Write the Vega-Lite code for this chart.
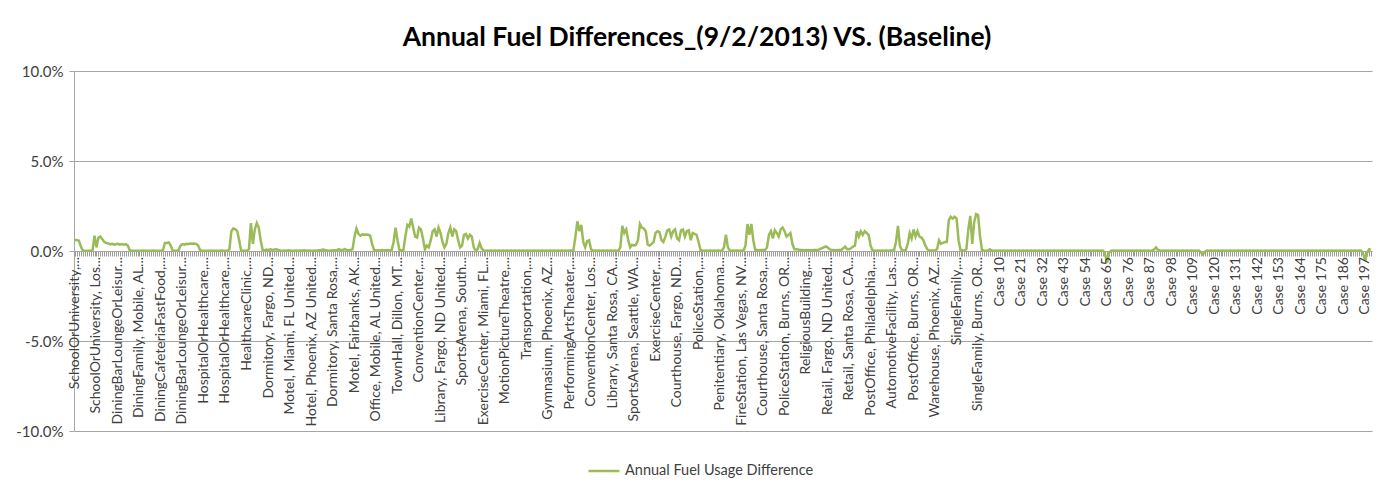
{
"$schema": "https://vega.github.io/schema/vega-lite/v6.json",
"width": 1298,
"height": 360,
"padding": {"left": 10, "top": 24, "right": 20, "bottom": 10},
"background": "white",
"title": {"text": "Annual Fuel Differences_(9/2/2013) VS. (Baseline)", "font": "Lato", "fontSize": 26.5, "fontWeight": "bold", "color": "#000000", "offset": 13, "anchor": "middle", "dx": -26},
"config": {"view": {"stroke": null}},
"data": {"values": [
{"i":0,"v":0.0062,"label":"SchoolOrUniversity,..."},{"i":1,"v":0.006},{"i":2,"v":0.0058},{"i":3,"v":0.0025},{"i":4,"v":0.0002},{"i":5,"v":0.0001},{"i":6,"v":0.0002},{"i":7,"v":0.0001},{"i":8,"v":0.0002},{"i":9,"v":0.0005},
{"i":10,"v":0.0085},{"i":11,"v":0.002,"label":"SchoolOrUniversity, Los..."},{"i":12,"v":0.0075},{"i":13,"v":0.008},{"i":14,"v":0.0065},{"i":15,"v":0.005},{"i":16,"v":0.0045},{"i":17,"v":0.0042},{"i":18,"v":0.0038},{"i":19,"v":0.004},
{"i":20,"v":0.0035},{"i":21,"v":0.0038},{"i":22,"v":0.004,"label":"DiningBarLoungeOrLeisur..."},{"i":23,"v":0.0035},{"i":24,"v":0.0038},{"i":25,"v":0.0035},{"i":26,"v":0.0038},{"i":27,"v":0.003},{"i":28,"v":0.0005},{"i":29,"v":0.0002},
{"i":30,"v":0.0001},{"i":31,"v":0.0002},{"i":32,"v":0.0002},{"i":33,"v":0.0001,"label":"DiningFamily, Mobile, AL..."},{"i":34,"v":0.0002},{"i":35,"v":0.0003},{"i":36,"v":0.0002},{"i":37,"v":0.0001},{"i":38,"v":0.0002},{"i":39,"v":0.0002},
{"i":40,"v":0.0003},{"i":41,"v":0.0002},{"i":42,"v":0.0001},{"i":43,"v":0.0002},{"i":44,"v":0.0002,"label":"DiningCafeteriaFastFood,..."},{"i":45,"v":0.0005},{"i":46,"v":0.0045},{"i":47,"v":0.0045},{"i":48,"v":0.0048},{"i":49,"v":0.003},
{"i":50,"v":0.0002},{"i":51,"v":0.0001},{"i":52,"v":0.0002},{"i":53,"v":0.0005},{"i":54,"v":0.003},{"i":55,"v":0.0038,"label":"DiningBarLoungeOrLeisur... "},{"i":56,"v":0.0035},{"i":57,"v":0.004},{"i":58,"v":0.0038},{"i":59,"v":0.0042},
{"i":60,"v":0.004},{"i":61,"v":0.0042},{"i":62,"v":0.004},{"i":63,"v":0.003},{"i":64,"v":0.0005},{"i":65,"v":0.0002},{"i":66,"v":0.0002,"label":"HospitalOrHealthcare,..."},{"i":67,"v":0.0001},{"i":68,"v":0.0002},{"i":69,"v":0.0002},
{"i":70,"v":0.0003},{"i":71,"v":0.0002},{"i":72,"v":0.0002},{"i":73,"v":0.0001},{"i":74,"v":0.0002},{"i":75,"v":0.0003},{"i":76,"v":0.0002},{"i":77,"v":0.0002,"label":"HospitalOrHealthcare,... "},{"i":78,"v":0.0002},{"i":79,"v":0.001},
{"i":80,"v":0.011},{"i":81,"v":0.0125},{"i":82,"v":0.0122},{"i":83,"v":0.011},{"i":84,"v":0.006},{"i":85,"v":0.0002},{"i":86,"v":0.0002},{"i":87,"v":0.0001},{"i":88,"v":0.0002,"label":"HealthcareClinic,..."},{"i":89,"v":0.001},
{"i":90,"v":0.0155},{"i":91,"v":0.004},{"i":92,"v":0.012},{"i":93,"v":0.0155},{"i":94,"v":0.013},{"i":95,"v":0.006},{"i":96,"v":0.0005},{"i":97,"v":0.0003},{"i":98,"v":0.0008},{"i":99,"v":0.0005,"label":"Dormitory, Fargo, ND..."},
{"i":100,"v":0.001},{"i":101,"v":0.0005},{"i":102,"v":0.0008},{"i":103,"v":0.001},{"i":104,"v":0.0005},{"i":105,"v":0.0003},{"i":106,"v":0.0002},{"i":107,"v":0.0003},{"i":108,"v":0.0002},{"i":109,"v":0.0004},
{"i":110,"v":0.0003,"label":"Motel, Miami, FL United..."},{"i":111,"v":0.0002},{"i":112,"v":0.0002},{"i":113,"v":0.0003},{"i":114,"v":0.0002},{"i":115,"v":0.0003},{"i":116,"v":0.0002},{"i":117,"v":0.0004},{"i":118,"v":0.0003},{"i":119,"v":0.0002},
{"i":120,"v":0.0003},{"i":121,"v":0.0002,"label":"Hotel, Phoenix, AZ United..."},{"i":122,"v":0.0002},{"i":123,"v":0.0003},{"i":124,"v":0.0002},{"i":125,"v":0.0004},{"i":126,"v":0.0006},{"i":127,"v":0.0008},{"i":128,"v":0.0005},{"i":129,"v":0.0003},
{"i":130,"v":0.0002},{"i":131,"v":0.0003},{"i":132,"v":0.0004,"label":"Dormitory, Santa Rosa,..."},{"i":133,"v":0.0003},{"i":134,"v":0.0005},{"i":135,"v":0.001},{"i":136,"v":0.0005},{"i":137,"v":0.0006},{"i":138,"v":0.001},{"i":139,"v":0.0005},
{"i":140,"v":0.0004},{"i":141,"v":0.0005},{"i":142,"v":0.001},{"i":143,"v":0.008,"label":"Motel, Fairbanks, AK..."},{"i":144,"v":0.0125},{"i":145,"v":0.0095},{"i":146,"v":0.0085},{"i":147,"v":0.0092},{"i":148,"v":0.009},{"i":149,"v":0.0092},
{"i":150,"v":0.009},{"i":151,"v":0.0085},{"i":152,"v":0.004},{"i":153,"v":0.0005},{"i":154,"v":0.0003,"label":"Office, Mobile, AL United..."},{"i":155,"v":0.0004},{"i":156,"v":0.0003},{"i":157,"v":0.0005},{"i":158,"v":0.0003},{"i":159,"v":0.0004},
{"i":160,"v":0.0005},{"i":161,"v":0.0003},{"i":162,"v":0.0005},{"i":163,"v":0.005},{"i":164,"v":0.013},{"i":165,"v":0.006,"label":"TownHall, Dillon, MT..."},{"i":166,"v":0.0005},{"i":167,"v":0.0003},{"i":168,"v":0.0005},{"i":169,"v":0.008},
{"i":170,"v":0.0145},{"i":171,"v":0.0135},{"i":172,"v":0.018},{"i":173,"v":0.013},{"i":174,"v":0.008},{"i":175,"v":0.0075},{"i":176,"v":0.013,"label":"ConventionCenter,..."},{"i":177,"v":0.012},{"i":178,"v":0.007},{"i":179,"v":0.001},
{"i":180,"v":0.003},{"i":181,"v":0.002},{"i":182,"v":0.006},{"i":183,"v":0.011},{"i":184,"v":0.012},{"i":185,"v":0.008},{"i":186,"v":0.013},{"i":187,"v":0.01,"label":"Library, Fargo, ND United..."},{"i":188,"v":0.005},{"i":189,"v":0.002},
{"i":190,"v":0.004},{"i":191,"v":0.01},{"i":192,"v":0.013},{"i":193,"v":0.008},{"i":194,"v":0.012},{"i":195,"v":0.011},{"i":196,"v":0.006},{"i":197,"v":0.002},{"i":198,"v":0.003,"label":"SportsArena, South..."},{"i":199,"v":0.009},
{"i":200,"v":0.0095},{"i":201,"v":0.007},{"i":202,"v":0.009},{"i":203,"v":0.008},{"i":204,"v":0.002},{"i":205,"v":0.0002},{"i":206,"v":0.001},{"i":207,"v":0.0045},{"i":208,"v":0.0015},{"i":209,"v":0.0003,"label":"ExerciseCenter, Miami, FL..."},
{"i":210,"v":0.0002},{"i":211,"v":0.0003},{"i":212,"v":0.0002},{"i":213,"v":0.0003},{"i":214,"v":0.0002},{"i":215,"v":0.0003},{"i":216,"v":0.0002},{"i":217,"v":0.0003},{"i":218,"v":0.0002},{"i":219,"v":0.0003},
{"i":220,"v":0.0002,"label":"MotionPictureTheatre,..."},{"i":221,"v":0.0003},{"i":222,"v":0.0002},{"i":223,"v":0.0003},{"i":224,"v":0.0002},{"i":225,"v":0.0003},{"i":226,"v":0.0002},{"i":227,"v":0.0003},{"i":228,"v":0.0002},{"i":229,"v":0.0003},
{"i":230,"v":0.0002},{"i":231,"v":0.0003,"label":"Transportation,..."},{"i":232,"v":0.0002},{"i":233,"v":0.0003},{"i":234,"v":0.0002},{"i":235,"v":0.0003},{"i":236,"v":0.0002},{"i":237,"v":0.0003},{"i":238,"v":0.0002},{"i":239,"v":0.0003},
{"i":240,"v":0.0002},{"i":241,"v":0.0003},{"i":242,"v":0.0002,"label":"Gymnasium, Phoenix, AZ..."},{"i":243,"v":0.0003},{"i":244,"v":0.0002},{"i":245,"v":0.0003},{"i":246,"v":0.0002},{"i":247,"v":0.0003},{"i":248,"v":0.0002},{"i":249,"v":0.0003},
{"i":250,"v":0.0002},{"i":251,"v":0.0003},{"i":252,"v":0.0002},{"i":253,"v":0.0003,"label":"PerformingArtsTheater,..."},{"i":254,"v":0.0002},{"i":255,"v":0.0005},{"i":256,"v":0.008},{"i":257,"v":0.0165},{"i":258,"v":0.011},{"i":259,"v":0.0145},
{"i":260,"v":0.005},{"i":261,"v":0.002},{"i":262,"v":0.0055},{"i":263,"v":0.006},{"i":264,"v":0.001,"label":"ConventionCenter, Los..."},{"i":265,"v":0.0002},{"i":266,"v":0.0003},{"i":267,"v":0.0002},{"i":268,"v":0.0003},{"i":269,"v":0.0002},
{"i":270,"v":0.0003},{"i":271,"v":0.0002},{"i":272,"v":0.0003},{"i":273,"v":0.0002},{"i":274,"v":0.0003},{"i":275,"v":0.0002,"label":"Library, Santa Rosa, CA..."},{"i":276,"v":0.0003},{"i":277,"v":0.0002},{"i":278,"v":0.0003},{"i":279,"v":0.002},
{"i":280,"v":0.014},{"i":281,"v":0.01},{"i":282,"v":0.012},{"i":283,"v":0.006},{"i":284,"v":0.002},{"i":285,"v":0.0035},{"i":286,"v":0.003,"label":"SportsArena, Seattle, WA..."},{"i":287,"v":0.0035},{"i":288,"v":0.006},{"i":289,"v":0.015},
{"i":290,"v":0.013},{"i":291,"v":0.0125},{"i":292,"v":0.011},{"i":293,"v":0.0035},{"i":294,"v":0.003},{"i":295,"v":0.004},{"i":296,"v":0.005},{"i":297,"v":0.01,"label":"ExerciseCenter,..."},{"i":298,"v":0.011},{"i":299,"v":0.0105},
{"i":300,"v":0.006},{"i":301,"v":0.005},{"i":302,"v":0.008},{"i":303,"v":0.0115},{"i":304,"v":0.012},{"i":305,"v":0.008},{"i":306,"v":0.011},{"i":307,"v":0.012},{"i":308,"v":0.007,"label":"Courthouse, Fargo, ND..."},{"i":309,"v":0.006},
{"i":310,"v":0.0115},{"i":311,"v":0.012},{"i":312,"v":0.008},{"i":313,"v":0.011},{"i":314,"v":0.0115},{"i":315,"v":0.006},{"i":316,"v":0.01},{"i":317,"v":0.0095},{"i":318,"v":0.009},{"i":319,"v":0.005,"label":"PoliceStation,..."},
{"i":320,"v":0.0005},{"i":321,"v":0.0003},{"i":322,"v":0.0002},{"i":323,"v":0.0003},{"i":324,"v":0.0002},{"i":325,"v":0.0003},{"i":326,"v":0.0002},{"i":327,"v":0.0003},{"i":328,"v":0.0002},{"i":329,"v":0.0003},
{"i":330,"v":0.0002,"label":"Penitentiary, Oklahoma..."},{"i":331,"v":0.0003},{"i":332,"v":0.002},{"i":333,"v":0.009},{"i":334,"v":0.002},{"i":335,"v":0.0003},{"i":336,"v":0.0002},{"i":337,"v":0.0003},{"i":338,"v":0.0002},{"i":339,"v":0.0003},
{"i":340,"v":0.0002},{"i":341,"v":0.0003,"label":"FireStation, Las Vegas, NV..."},{"i":342,"v":0.0003},{"i":343,"v":0.003},{"i":344,"v":0.015},{"i":345,"v":0.009},{"i":346,"v":0.015},{"i":347,"v":0.006},{"i":348,"v":0.0005},{"i":349,"v":0.0005},
{"i":350,"v":0.0004},{"i":351,"v":0.0005},{"i":352,"v":0.0005,"label":"Courthouse, Santa Rosa,..."},{"i":353,"v":0.0006},{"i":354,"v":0.002},{"i":355,"v":0.009},{"i":356,"v":0.011},{"i":357,"v":0.007},{"i":358,"v":0.0115},{"i":359,"v":0.01},
{"i":360,"v":0.008},{"i":361,"v":0.012},{"i":362,"v":0.013},{"i":363,"v":0.011,"label":"PoliceStation, Burns, OR..."},{"i":364,"v":0.008},{"i":365,"v":0.009},{"i":366,"v":0.01},{"i":367,"v":0.004},{"i":368,"v":0.001},{"i":369,"v":0.001},
{"i":370,"v":0.0008},{"i":371,"v":0.0005},{"i":372,"v":0.0005},{"i":373,"v":0.0004},{"i":374,"v":0.0005,"label":"ReligiousBuilding,..."},{"i":375,"v":0.0004},{"i":376,"v":0.0005},{"i":377,"v":0.0004},{"i":378,"v":0.0005},{"i":379,"v":0.0005},
{"i":380,"v":0.0005},{"i":381,"v":0.001},{"i":382,"v":0.0015},{"i":383,"v":0.002},{"i":384,"v":0.0025},{"i":385,"v":0.002,"label":"Retail, Fargo, ND United..."},{"i":386,"v":0.001},{"i":387,"v":0.0005},{"i":388,"v":0.0005},{"i":389,"v":0.0004},
{"i":390,"v":0.0005},{"i":391,"v":0.0005},{"i":392,"v":0.0006},{"i":393,"v":0.0015},{"i":394,"v":0.0025},{"i":395,"v":0.001},{"i":396,"v":0.001,"label":"Retail, Santa Rosa, CA..."},{"i":397,"v":0.0015},{"i":398,"v":0.0025},{"i":399,"v":0.003},
{"i":400,"v":0.011},{"i":401,"v":0.008},{"i":402,"v":0.011},{"i":403,"v":0.009},{"i":404,"v":0.011},{"i":405,"v":0.01},{"i":406,"v":0.009},{"i":407,"v":0.003,"label":"PostOffice, Philadelphia,..."},{"i":408,"v":0.0003},{"i":409,"v":0.0003},
{"i":410,"v":0.0002},{"i":411,"v":0.0003},{"i":412,"v":0.0002},{"i":413,"v":0.0003},{"i":414,"v":0.0002},{"i":415,"v":0.0003},{"i":416,"v":0.0002},{"i":417,"v":0.0003},{"i":418,"v":0.0003,"label":"AutomotiveFacility, Las..."},{"i":419,"v":0.0005},
{"i":420,"v":0.005},{"i":421,"v":0.014},{"i":422,"v":0.003},{"i":423,"v":0.0003},{"i":424,"v":0.0003},{"i":425,"v":0.0005},{"i":426,"v":0.004},{"i":427,"v":0.01},{"i":428,"v":0.007},{"i":429,"v":0.012,"label":"PostOffice, Burns, OR..."},
{"i":430,"v":0.008},{"i":431,"v":0.011},{"i":432,"v":0.008},{"i":433,"v":0.0075},{"i":434,"v":0.006},{"i":435,"v":0.003},{"i":436,"v":0.001},{"i":437,"v":0.0003},{"i":438,"v":0.0003},{"i":439,"v":0.0003},
{"i":440,"v":0.0004,"label":"Warehouse, Phoenix, AZ..."},{"i":441,"v":0.001},{"i":442,"v":0.006},{"i":443,"v":0.004},{"i":444,"v":0.0045},{"i":445,"v":0.005},{"i":446,"v":0.005},{"i":447,"v":0.017},{"i":448,"v":0.019},{"i":449,"v":0.018},
{"i":450,"v":0.019},{"i":451,"v":0.018,"label":"SingleFamily,..."},{"i":452,"v":0.006},{"i":453,"v":0.0005},{"i":454,"v":0.0003},{"i":455,"v":0.0003},{"i":456,"v":0.001},{"i":457,"v":0.012},{"i":458,"v":0.0195},{"i":459,"v":0.004},
{"i":460,"v":0.016},{"i":461,"v":0.0205},{"i":462,"v":0.02,"label":"SingleFamily, Burns, OR..."},{"i":463,"v":0.008},{"i":464,"v":0.0005},{"i":465,"v":0.0003},{"i":466,"v":0.0002},{"i":467,"v":0.0003},{"i":468,"v":0.001},{"i":469,"v":0.0003},
{"i":470,"v":0.0002},{"i":471,"v":0.0003},{"i":472,"v":0.0002},{"i":473,"v":0.0003,"label":"Case 10"},{"i":474,"v":0.0002},{"i":475,"v":0.0003},{"i":476,"v":0.0002},{"i":477,"v":0.0003},{"i":478,"v":0.0002},{"i":479,"v":0.0003},
{"i":480,"v":0.0002},{"i":481,"v":0.0003},{"i":482,"v":0.0002},{"i":483,"v":0.0003},{"i":484,"v":0.0002,"label":"Case 21"},{"i":485,"v":0.0003},{"i":486,"v":0.0002},{"i":487,"v":0.0003},{"i":488,"v":0.0002},{"i":489,"v":0.0003},
{"i":490,"v":0.0002},{"i":491,"v":0.0003},{"i":492,"v":0.0002},{"i":493,"v":0.0003},{"i":494,"v":0.0002},{"i":495,"v":0.0003,"label":"Case 32"},{"i":496,"v":0.0002},{"i":497,"v":0.0003},{"i":498,"v":0.0002},{"i":499,"v":0.0003},
{"i":500,"v":0.0002},{"i":501,"v":0.0003},{"i":502,"v":0.0002},{"i":503,"v":0.0003},{"i":504,"v":0.0002},{"i":505,"v":0.0003},{"i":506,"v":0.0002,"label":"Case 43"},{"i":507,"v":0.0003},{"i":508,"v":0.0002},{"i":509,"v":0.0003},
{"i":510,"v":0.0002},{"i":511,"v":0.0003},{"i":512,"v":0.0002},{"i":513,"v":0.0003},{"i":514,"v":0.0002},{"i":515,"v":0.0003},{"i":516,"v":0.0002},{"i":517,"v":0.0003,"label":"Case 54"},{"i":518,"v":0.0002},{"i":519,"v":0.0003},
{"i":520,"v":0.0002},{"i":521,"v":0.0003},{"i":522,"v":0.0002},{"i":523,"v":0.0003},{"i":524,"v":0.0002},{"i":525,"v":0.0003},{"i":526,"v":0.0002},{"i":527,"v":-0.002},{"i":528,"v":-0.0065,"label":"Case 65"},{"i":529,"v":-0.001},
{"i":530,"v":0.0002},{"i":531,"v":0.0003},{"i":532,"v":0.0002},{"i":533,"v":0.0003},{"i":534,"v":0.0002},{"i":535,"v":0.0003},{"i":536,"v":0.0002},{"i":537,"v":0.0003},{"i":538,"v":0.0002},{"i":539,"v":0.0003,"label":"Case 76"},
{"i":540,"v":0.0002},{"i":541,"v":0.0003},{"i":542,"v":0.0002},{"i":543,"v":0.0003},{"i":544,"v":0.0002},{"i":545,"v":0.0003},{"i":546,"v":0.0002},{"i":547,"v":0.0003},{"i":548,"v":0.0002},{"i":549,"v":0.0003},
{"i":550,"v":0.0002,"label":"Case 87"},{"i":551,"v":0.0003},{"i":552,"v":0.0008},{"i":553,"v":0.002},{"i":554,"v":0.0005},{"i":555,"v":0.0003},{"i":556,"v":0.0002},{"i":557,"v":0.0003},{"i":558,"v":0.0002},{"i":559,"v":0.0003},
{"i":560,"v":0.0002},{"i":561,"v":0.0003,"label":"Case 98"},{"i":562,"v":0.0002},{"i":563,"v":0.0003},{"i":564,"v":0.0002},{"i":565,"v":0.0003},{"i":566,"v":0.0002},{"i":567,"v":0.0003},{"i":568,"v":0.0002},{"i":569,"v":0.0003},
{"i":570,"v":0.0002},{"i":571,"v":0.0003},{"i":572,"v":0.0002,"label":"Case 109"},{"i":573,"v":0.0003},{"i":574,"v":0.0002},{"i":575,"v":0.0003},{"i":576,"v":-0.0008},{"i":577,"v":-0.002},{"i":578,"v":-0.0005},{"i":579,"v":0.0003},
{"i":580,"v":0.0002},{"i":581,"v":0.0003},{"i":582,"v":0.0002},{"i":583,"v":0.0003,"label":"Case 120"},{"i":584,"v":0.0002},{"i":585,"v":0.0003},{"i":586,"v":0.0002},{"i":587,"v":0.0003},{"i":588,"v":0.0002},{"i":589,"v":0.0003},
{"i":590,"v":0.0002},{"i":591,"v":0.0003},{"i":592,"v":0.0002},{"i":593,"v":0.0003},{"i":594,"v":0.0002,"label":"Case 131"},{"i":595,"v":0.0003},{"i":596,"v":0.0002},{"i":597,"v":0.0003},{"i":598,"v":0.0002},{"i":599,"v":0.0003},
{"i":600,"v":0.0002},{"i":601,"v":0.0003},{"i":602,"v":0.0002},{"i":603,"v":0.0003},{"i":604,"v":0.0002},{"i":605,"v":0.0003,"label":"Case 142"},{"i":606,"v":0.0002},{"i":607,"v":0.0003},{"i":608,"v":0.0002},{"i":609,"v":0.0003},
{"i":610,"v":0.0002},{"i":611,"v":0.0003},{"i":612,"v":0.0002},{"i":613,"v":0.0003},{"i":614,"v":0.0002},{"i":615,"v":0.0003},{"i":616,"v":0.0002,"label":"Case 153"},{"i":617,"v":0.0003},{"i":618,"v":0.0002},{"i":619,"v":0.0003},
{"i":620,"v":0.0002},{"i":621,"v":0.0003},{"i":622,"v":0.0002},{"i":623,"v":0.0003},{"i":624,"v":0.0002},{"i":625,"v":0.0003},{"i":626,"v":0.0002},{"i":627,"v":0.0003,"label":"Case 164"},{"i":628,"v":0.0002},{"i":629,"v":0.0003},
{"i":630,"v":0.0002},{"i":631,"v":0.0003},{"i":632,"v":0.0002},{"i":633,"v":0.0003},{"i":634,"v":0.0002},{"i":635,"v":0.0003},{"i":636,"v":0.0002},{"i":637,"v":0.0003},{"i":638,"v":0.0002,"label":"Case 175"},{"i":639,"v":0.0003},
{"i":640,"v":0.0002},{"i":641,"v":0.0003},{"i":642,"v":0.0002},{"i":643,"v":0.0003},{"i":644,"v":0.0002},{"i":645,"v":0.0003},{"i":646,"v":0.0002},{"i":647,"v":0.0003},{"i":648,"v":0.0002},{"i":649,"v":0.0003,"label":"Case 186"},
{"i":650,"v":0.0002},{"i":651,"v":0.0003},{"i":652,"v":0.0002},{"i":653,"v":0.0003},{"i":654,"v":0.0002},{"i":655,"v":0.0003},{"i":656,"v":0.0002},{"i":657,"v":0.0003},{"i":658,"v":0.0002},{"i":659,"v":-0.0015},
{"i":660,"v":-0.0055,"label":"Case 197"},{"i":661,"v":-0.001},{"i":662,"v":0.001},{"i":663,"v":0.0006}
]},
"layer": [
{"mark": {"type": "line", "strokeWidth": 2.5},
 "encoding": {
  "x": {"field": "i", "type": "ordinal", "axis": {"labels": false, "title": null, "ticks": true, "tickSize": 5, "tickColor": "#9a9a9a", "domainColor": "#a6a6a6", "offset": -180, "grid": false}},
  "y": {"field": "v", "type": "quantitative", "scale": {"domain": [-0.1, 0.1]}, "axis": {"values": [-0.1, -0.05, 0, 0.05, 0.1], "labelExpr": "(datum.value < 0 ? '-' : '') + format(abs(datum.value), '.1%')", "title": null, "grid": true, "gridColor": "#a6a6a6", "domainColor": "#a6a6a6", "tickColor": "#a6a6a6", "tickSize": 5, "labelFont": "Lato", "labelFontSize": 15, "labelColor": "#404040", "labelPadding": 6, "minExtent": 64, "maxExtent": 64}},
  "color": {"datum": "Annual Fuel Usage Difference", "type": "nominal", "scale": {"range": ["#9bbb59"]}, "legend": {"title": null, "orient": "none", "legendX": 513, "legendY": 383, "direction": "horizontal", "labelFont": "Lato", "labelFontSize": 14.5, "labelColor": "#404040", "labelLimit": 400, "labelOffset": 4, "symbolType": "stroke", "symbolSize": 961, "symbolStrokeWidth": 2.5}}
 }},
{"transform": [{"filter": "isValid(datum.label)"}],
 "mark": {"type": "text", "angle": 270, "align": "right", "baseline": "middle", "dx": -6, "font": "Lato", "fontSize": 14, "color": "#404040"},
 "encoding": {
  "x": {"field": "i", "type": "ordinal"},
  "y": {"datum": 0},
  "text": {"field": "label"}
 }}
]
}
